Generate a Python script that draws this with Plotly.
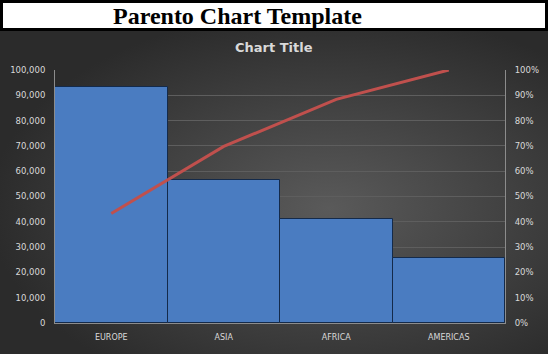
import base64
import plotly.graph_objects as go

categories = ["EUROPE", "ASIA", "AFRICA", "AMERICAS"]
values = [93400, 56700, 41300, 25600]
cum_pct = [43.3, 69.8, 88.4, 100.0]
left_ticks = list(range(0, 100001, 10000))
right_ticks = list(range(0, 101, 10))
right_labels = [f"{v}%" for v in right_ticks]

W, H = 548, 354
L, R, T, B = 55, 43, 70, 31
pw, ph = W - L - R, H - T - B

svg = ('<svg xmlns="http://www.w3.org/2000/svg" width="548" height="323" preserveAspectRatio="none">'
       '<defs><radialGradient id="g" cx="0.6" cy="0.55" r="0.62">'
       '<stop offset="0" stop-color="#5a5a5a"/><stop offset="1" stop-color="#2b2b2b"/>'
       '</radialGradient></defs><rect width="548" height="323" fill="url(#g)"/></svg>')
src = "data:image/svg+xml;base64," + base64.b64encode(svg.encode()).decode()

fig = go.Figure()
fig.add_trace(go.Bar(
    x=categories, y=values, width=1,
    marker=dict(color="#4a7cc1", line=dict(color="#142a4a", width=1)),
    yaxis="y", showlegend=False,
))
fig.add_trace(go.Scatter(
    x=categories, y=cum_pct, mode="lines",
    line=dict(color="#c0504d", width=3),
    yaxis="y2", showlegend=False,
))

font_c = "#d9d9d9"
fig.update_layout(
    width=W, height=H,
    margin=dict(l=L, r=R, t=T, b=B, pad=0, autoexpand=False),
    paper_bgcolor="#000000",
    plot_bgcolor="rgba(0,0,0,0)",
    font=dict(family="DejaVu Sans", color=font_c, size=8),
    bargap=0,
    xaxis=dict(
        showgrid=False, showline=True, linecolor="#8c8c8c", linewidth=1,
        tickfont=dict(size=8, color=font_c), ticks="", ticklabelstandoff=6,
        fixedrange=True, automargin=False,
    ),
    yaxis=dict(
        range=[0, 100000], tickvals=left_ticks, tickformat=",d",
        showgrid=True, gridcolor="#5e5e5e", gridwidth=1,
        showline=True, linecolor="#8c8c8c", linewidth=1,
        zeroline=False, ticks="", ticklabelstandoff=7, automargin=False,
        tickfont=dict(size=8.5, color=font_c),
    ),
    yaxis2=dict(
        range=[0, 100], tickmode="array", tickvals=right_ticks, ticktext=right_labels,
        overlaying="y", side="right", showgrid=False,
        showline=True, linecolor="#8c8c8c", linewidth=1,
        zeroline=False, ticks="", ticklabelstandoff=7, automargin=False,
        tickfont=dict(size=8.5, color=font_c),
    ),
    images=[dict(
        source=src, xref="paper", yref="paper",
        x=-L / pw, y=(H - B - 31) / ph,
        sizex=W / pw, sizey=(H - 31) / ph,
        xanchor="left", yanchor="top", sizing="stretch", layer="below",
    )],
    shapes=[
        dict(type="rect", xref="paper", yref="paper",
             x0=-L / pw + 3 / pw, x1=(W - L - 3) / pw,
             y0=(H - B - 28) / ph, y1=(H - B - 3) / ph,
             fillcolor="#ffffff", line=dict(width=0), layer="above"),
    ],
    annotations=[
        dict(text="<b>Parento Chart Template</b>", xref="paper", yref="paper",
             x=(237 - L) / pw, y=(H - B - 16) / ph, xanchor="center", yanchor="middle",
             showarrow=False, font=dict(family="Liberation Serif", size=24, color="#000000")),
        dict(text="<b>Chart Title</b>", xref="paper", yref="paper",
             x=(274 - L) / pw, y=(H - B - 47) / ph, xanchor="center", yanchor="middle",
             showarrow=False, font=dict(family="DejaVu Sans", size=13, color="#d9d9d9")),
    ],
)

fig.write_html("out.html")
